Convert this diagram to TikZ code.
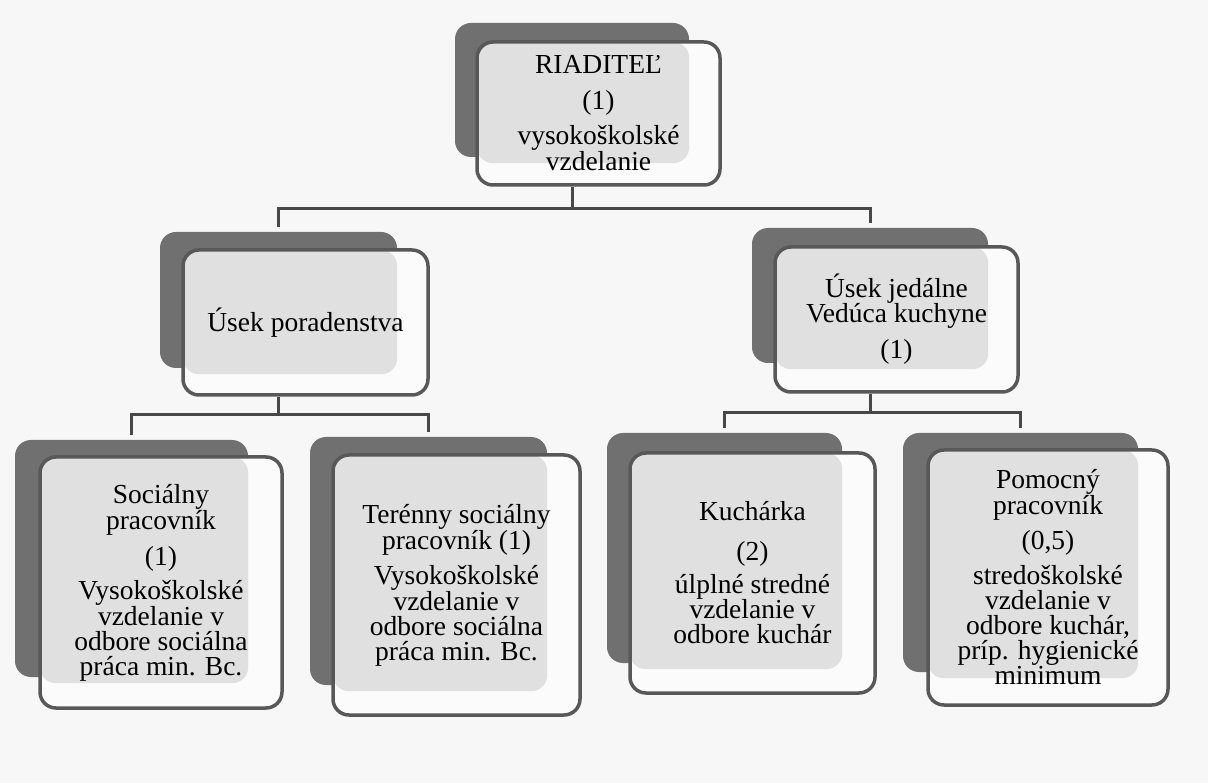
\documentclass[tikz,border=0pt]{standalone}
\usepackage{fontspec}
\setmainfont{Liberation Serif}
\usetikzlibrary{calc}
\definecolor{bggray}{RGB}{247,247,247}
\definecolor{shadowgray}{RGB}{112,112,112}
\definecolor{framegray}{RGB}{88,88,88}
\definecolor{boxwhite}{RGB}{251,251,251}
\definecolor{innergray}{RGB}{224,224,224}
\definecolor{linegray}{RGB}{72,72,72}

\begin{document}
\begin{tikzpicture}[x=1pt,y=-1pt]
\tikzset{backbox/.style={fill=shadowgray, rounded corners=16pt, inner sep=0pt}}
\tikzset{frontbox/.style={draw=framegray, line width=3.5pt, fill=boxwhite, rounded corners=16pt, inner sep=0pt, align=center,
  path picture={\fill[innergray] (path picture bounding box.north west) rectangle ([yshift=-6pt]#1.south east);}}}
\tikzset{link/.style={draw=linegray, line width=3pt, shorten >=5pt}}
\tikzstyle{every node}=[font=\fontsize{27.5}{25}\selectfont]
\fill[bggray] (0,0) rectangle (1208,783);
\useasboundingbox (0,0) rectangle (1208,783);

\node[backbox, minimum width=234pt, minimum height=134pt] (ria-s) at (572,90) {};
\node[frontbox=ria-s, minimum width=243pt, minimum height=143pt] (ria) at (598.5,113.5)
  {RIADITEĽ\\[11pt](1)\\[10pt]vysokoškolské\\vzdelanie};

\node[backbox, minimum width=237pt, minimum height=136pt] (por-s) at (278.5,300) {};
\node[frontbox=por-s, minimum width=245pt, minimum height=145pt] (por) at (305.5,322.5)
  {Úsek poradenstva};

\node[backbox, minimum width=236pt, minimum height=135pt] (jed-s) at (870,295.5) {};
\node[frontbox=jed-s, minimum width=243pt, minimum height=145pt] (jed) at (896.5,319.5)
  {Úsek jedálne\\Vedúca kuchyne\\[10pt](1)};

\node[backbox, minimum width=233pt, minimum height=237pt] (soc-s) at (131.5,558.5) {};
\node[frontbox=soc-s, minimum width=242pt, minimum height=251pt] (soc) at (161,582.5)
  {Sociálny\\pracovník\\[11pt](1)\\[9pt]Vysokoškolské\\vzdelanie v\\odbore sociálna\\práca min. Bc.};

\node[backbox, minimum width=237pt, minimum height=248pt] (ter-s) at (428.5,561) {};
\node[frontbox=ter-s, minimum width=247pt, minimum height=260pt] (ter) at (456.5,585)
  {Terénny sociálny\\pracovník (1)\\[10pt]Vysokoškolské\\vzdelanie v\\odbore sociálna\\práca min. Bc.};

\node[backbox, minimum width=235pt, minimum height=230pt] (kuc-s) at (724.5,548) {};
\node[frontbox=kuc-s, minimum width=245pt, minimum height=240pt] (kuc) at (752.5,573)
  {Kuchárka\\[15pt](2)\\[8pt]úlplné stredné\\vzdelanie v\\odbore kuchár};

\node[backbox, minimum width=235pt, minimum height=239pt] (pom-s) at (1020.5,552.5) {};
\node[frontbox=pom-s, minimum width=240pt, minimum height=255pt] (pom) at (1048,577.5)
  {Pomocný\\pracovník\\[10pt](0,5)\\[10pt]stredoškolské\\vzdelanie v\\odbore kuchár,\\príp. hygienické\\minimum};

\draw[link, shorten >=0pt] (ria-s |- ria.south) -- ++(0,22) coordinate (bus-ria);
\draw[link] (bus-ria) -| (por-s.north);
\draw[link] (bus-ria) -| (jed-s.north);

\draw[link, shorten >=0pt] (por-s |- por.south) -- ++(0,18) coordinate (bus-por);
\draw[link] (bus-por) -| (soc-s.north);
\draw[link] (bus-por) -| (ter-s.north);

\draw[link, shorten >=0pt] (jed-s |- jed.south) -- ++(0,19) coordinate (bus-jed);
\draw[link] (bus-jed) -| (kuc-s.north);
\draw[link] (bus-jed) -| (pom-s.north);
\end{tikzpicture}
\end{document}
